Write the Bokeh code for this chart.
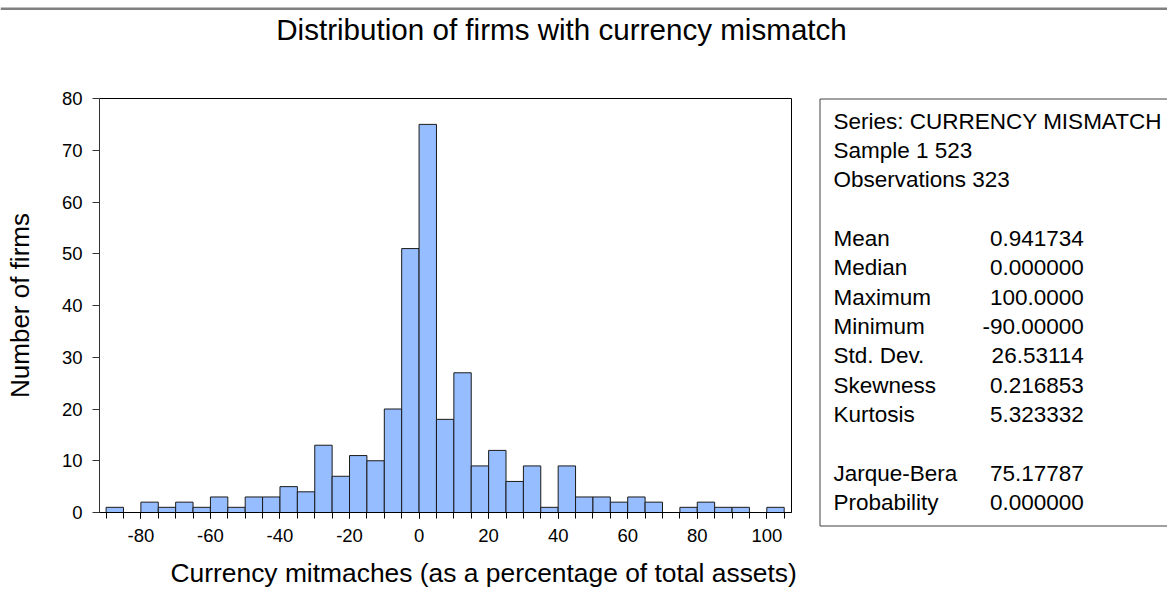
from bokeh.plotting import figure
from bokeh.layouts import column, row
from bokeh.models import FixedTicker
from bokeh.core.properties import value
from bokeh.embed import file_html
from bokeh.resources import INLINE

# ---------------- data ----------------
bin_left = [-90, -85, -80, -75, -70, -65, -60, -55, -50, -45, -40, -35, -30,
            -25, -20, -15, -10, -5, 0, 5, 10, 15, 20, 25, 30, 35, 40, 45, 50,
            55, 60, 65, 70, 75, 80, 85, 90, 95, 100]
counts = [1, 0, 2, 1, 2, 1, 3, 1, 3, 3, 5, 4, 13, 7, 11, 10, 20, 51, 75, 18,
          27, 9, 12, 6, 9, 1, 9, 3, 3, 2, 3, 2, 0, 1, 2, 1, 1, 0, 1]
bin_width = 5
x_tick_labels = [-80, -60, -40, -20, 0, 20, 40, 60, 80, 100]
y_tick_labels = [0, 10, 20, 30, 40, 50, 60, 70, 80]

header_lines = ["Series: CURRENCY MISMATCH", "Sample 1 523", "Observations 323"]
stat_names = ["Mean", "Median", "Maximum", "Minimum", "Std. Dev.", "Skewness",
              "Kurtosis", "Jarque-Bera", "Probability"]
stat_values = ["0.941734", "0.000000", "100.0000", "-90.00000", "26.53114",
               "0.216853", "5.323332", "75.17787", "0.000000"]
stat_rows = [4, 5, 6, 7, 8, 9, 10, 12, 13]

title_text = "Distribution of firms with currency mismatch"
x_label_text = "Currency mitmaches (as a percentage of total assets)"
y_label_text = "Number of firms"

FONT = "Liberation Sans"
TOTAL_W, TOTAL_H = 1167, 588
TOP_H = 84          # height of the title strip
MID_H = 468         # height of histogram / stats row
BOT_H = TOTAL_H - TOP_H - MID_H
BASE_SHIFT = 0.38   # text glyphs land this many ems below the requested y


def blank(width, height):
    f = figure(width=width, height=height, x_range=(0, width),
               y_range=(height, 0), output_backend="svg",
               toolbar_location=None, x_axis_location=None,
               y_axis_location=None, min_border=0)
    f.outline_line_color = None
    f.background_fill_color = "white"
    f.border_fill_color = "white"
    f.grid.visible = False
    return f


# ---------------- top strip: rule + title ----------------
TITLE_FS = 29.6
top = blank(TOTAL_W, TOP_H)
top.quad(left=[0], right=[TOTAL_W], top=[7], bottom=[9.5],
         fill_color="#808080", line_color=None)
top.text(x=[561], y=[40 - BASE_SHIFT * TITLE_FS], text=[title_text],
         text_font=value(FONT), text_font_size=f"{TITLE_FS}px",
         text_align="center", text_baseline="alphabetic", text_color="black")

# ---------------- histogram ----------------
HW = 815
X0, X1 = -91.9, 107.1
p = figure(width=HW, height=MID_H, x_range=(X0, X1), y_range=(0, 80),
           output_backend="svg", toolbar_location=None,
           min_border_left=99, min_border_right=HW - 791,
           min_border_top=98 - TOP_H, min_border_bottom=TOP_H + MID_H - 512)
p.background_fill_color = "white"
p.border_fill_color = "white"
p.outline_line_color = "black"
p.outline_line_width = 1
p.xgrid.visible = False
p.ygrid.visible = False

bin_right = [b + bin_width for b in bin_left]
p.quad(left=bin_left, right=bin_right, bottom=0, top=counts,
       fill_color="#96BDFF", line_color="#1a1a1a", line_width=1)

xa = p.xaxis[0]
xa.ticker = FixedTicker(ticks=x_tick_labels,
                        minor_ticks=bin_left + [bin_right[-1]])
xa.major_label_overrides = {v: str(v) for v in x_tick_labels}
xa.axis_line_color = "black"
xa.major_tick_line_color = "black"
xa.minor_tick_line_color = "black"
xa.major_tick_out = 6
xa.major_tick_in = 0
xa.minor_tick_out = 6
xa.minor_tick_in = 0
xa.major_label_text_font = FONT
xa.major_label_text_font_size = "18.5px"
xa.major_label_text_color = "black"
xa.major_label_standoff = 10

ya = p.yaxis[0]
ya.ticker = FixedTicker(ticks=y_tick_labels, minor_ticks=[])
ya.major_label_overrides = {v: str(v) for v in y_tick_labels}
ya.axis_line_color = "#333333"
ya.major_tick_line_color = "#333333"
ya.major_tick_out = 7
ya.major_tick_in = 0
ya.minor_tick_line_color = None
ya.major_label_text_font = FONT
ya.major_label_text_font_size = "18.5px"
ya.major_label_text_color = "black"
ya.major_label_standoff = 10
ya.axis_label = y_label_text
ya.axis_label_text_font = FONT
ya.axis_label_text_font_size = "26px"
ya.axis_label_text_font_style = "normal"
ya.axis_label_text_color = "black"
ya.axis_label_standoff = 24

# ---------------- statistics panel ----------------
STAT_FS = 22.5
SW = TOTAL_W - HW
stats = blank(SW, MID_H)
stats.quad(left=[4.5], right=[SW + 50], top=[98.5 - TOP_H],
           bottom=[525.5 - TOP_H],
           fill_color=None, line_color="#404040", line_width=1)
LINE0, STEP = 129.2 - TOP_H - BASE_SHIFT * STAT_FS, 29.33
stat_kw = dict(text_font=value(FONT), text_font_size=f"{STAT_FS}px",
               text_baseline="alphabetic", text_color="black")
stats.text(x=[18] * len(header_lines),
           y=[LINE0 + i * STEP for i in range(len(header_lines))],
           text=header_lines, text_align="left", **stat_kw)
stats.text(x=[18] * len(stat_names),
           y=[LINE0 + r * STEP for r in stat_rows],
           text=stat_names, text_align="left", **stat_kw)
stats.text(x=[268.3] * len(stat_values),
           y=[LINE0 + r * STEP for r in stat_rows],
           text=stat_values, text_align="right", **stat_kw)

# ---------------- bottom strip: x-axis title ----------------
XL_FS = 26.4
bottom = blank(TOTAL_W, BOT_H)
bottom.text(x=[170], y=[582.5 - TOP_H - MID_H - BASE_SHIFT * XL_FS],
            text=[x_label_text], text_font=value(FONT),
            text_font_size=f"{XL_FS}px", text_align="left",
            text_baseline="alphabetic", text_color="black")

layout = column(top, row(p, column(stats)), bottom)
open("out.html", "w").write(file_html(layout, INLINE))
